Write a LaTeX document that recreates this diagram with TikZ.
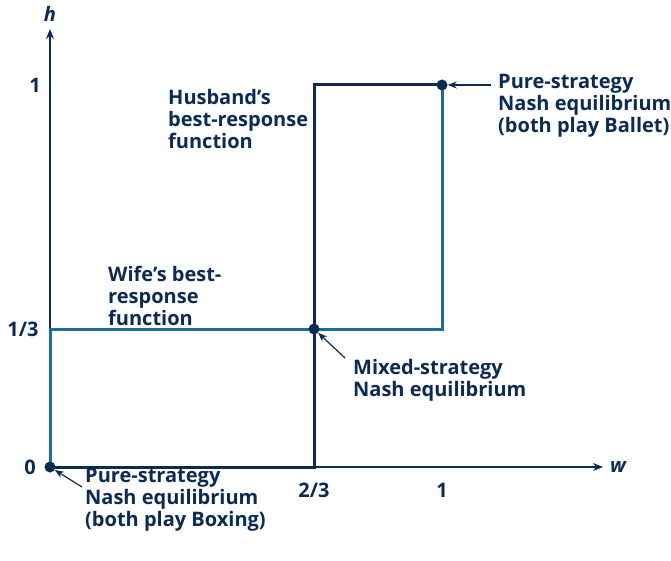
\documentclass[tikz,border=0pt]{standalone}
\usepackage{fontspec}
\setmainfont{Open Sans}[BoldFont={* Bold},ItalicFont={* Italic},BoldItalicFont={* Bold Italic}]
\usetikzlibrary{arrows.meta}
\definecolor{navy}{RGB}{12,42,82}
\definecolor{teal}{RGB}{26,112,156}
\tikzset{
  lbl/.style={inner sep=0pt, text=navy, font=\bfseries\fontsize{20}{22}\selectfont, align=left, anchor=west},
  tick/.style={inner sep=0pt, text=navy, font=\bfseries\fontsize{20}{22}\selectfont},
  axis/.style={draw=navy, line width=1.5pt, -{Stealth[length=10pt,width=8pt]}},
  husb/.style={draw=navy, line width=3pt, line join=miter},
  wife/.style={draw=teal, line width=3pt, line join=miter},
  dot/.style={circle, fill=navy, inner sep=0pt, minimum size=11pt},
  pointer/.style={draw=navy, line width=1.2pt, -{Stealth[length=9pt,width=7pt]}}
}
\begin{document}
\begin{tikzpicture}[x=1pt,y=-1pt]
\useasboundingbox (0,0) rectangle (671,561);
% coordinates
\coordinate (O) at (50,467);
\coordinate (hTop) at (50,29);
\coordinate (wEnd) at (603,467);
\coordinate (A) at (314,467);
\coordinate (B) at (314,85);
\coordinate (C) at (442,85);
\coordinate (D) at (442,329);
\coordinate (E) at (50,329);
% axes
\draw[axis] (O) -- (hTop);
\draw[axis] (O) -- (wEnd);
% wife's best response
\draw[wife] (O) -- (E) -- (D) -- (C);
% husband's best response
\draw[husb] (O) -- (A) -- (B) -- (C);
% dots
\node[dot] (m) at (314,329) {};
\node[dot] (p1) at (C) {};
\node[dot] (p0) at (O) {};
% axis labels
\node[tick, font=\bfseries\itshape\fontsize{20}{22}\selectfont] (hl) at (50,14) {h};
\node[tick, font=\bfseries\itshape\fontsize{20}{22}\selectfont] (wl) at (618,467) {w};
\node[tick] (t1) at (35,85) {1};
\node[tick] (t13) at (23,329) {1/3};
\node[tick] (t0) at (30,467) {0};
\node[tick] (t23) at (314,490) {2/3};
\node[tick] (tw1) at (442,490) {1};
% text labels
\node[lbl] (hus) at (168,119) {Husband’s\\best-response\\function};
\node[lbl] (wif) at (108,296) {Wife’s best-\\response\\function};
\node[lbl] (mix) at (353,380) {Mixed-strategy\\Nash equilibrium};
\node[lbl] (bal) at (498,106) {Pure-strategy\\Nash equilibrium\\(both play Ballet)};
\node[lbl] (box) at (85,500) {Pure-strategy\\Nash equilibrium\\(both play Boxing)};
% pointers
\coordinate (mS) at (345,358);
\coordinate (balS) at (491,85);
\coordinate (boxS) at (82,487);
\draw[pointer] (mS) -- (m);
\draw[pointer] (balS) -- (p1);
\draw[pointer] (boxS) -- (p0);
\end{tikzpicture}
\end{document}
